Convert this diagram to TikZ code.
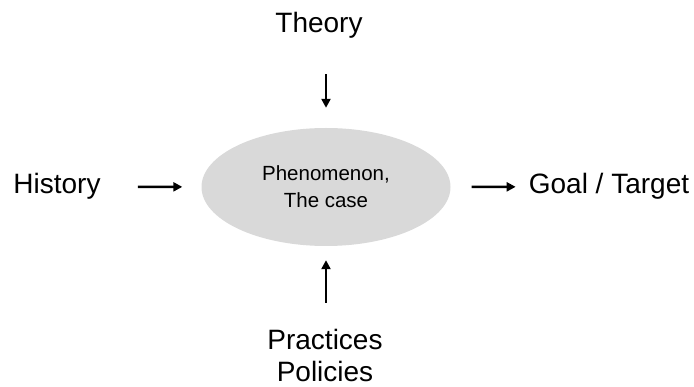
\documentclass[tikz,border=0pt]{standalone}
\usepackage{fontspec}
\setmainfont{Liberation Sans}
\usetikzlibrary{arrows.meta,shapes.geometric}
\definecolor{casegray}{RGB}{217,217,217}

\begin{document}
\begin{tikzpicture}[x=1pt,y=-1pt]
		\tikzstyle{every node}+=[inner sep=0pt]
		\tikzstyle{word}=[font=\fontsize{28}{32}\selectfont, align=center]
		\tikzstyle{pointer}=[-{Triangle[length=9pt,width=9pt]}, line width=2.4pt]
		\useasboundingbox (0,0) rectangle (694,387);
		\node [ellipse, fill=casegray, minimum width=249pt, minimum height=118pt, font=\fontsize{20.5}{27}\selectfont, align=center] (case) at (326,187) {Phenomenon,\\The case};
		\node [word, anchor=base] (theory) at (319,33) {Theory};
		\node [word, anchor=base] (history) at (57,194) {History};
		\node [word, anchor=base] (goal) at (609,194) {Goal / Target};
		\node [word, anchor=north] (practice) at (325,329) {Practices\\Policies};
		\draw [pointer, shorten <=35pt, shorten >=20pt] (theory.south -| case) -- (case.north);
		\draw [pointer, shorten <=37pt, shorten >=19pt] (history) -- (case);
		\draw [pointer, shorten <=21pt, shorten >=13pt] (case) -- (goal);
		\draw [pointer, shorten <=26pt, shorten >=14pt] (practice.north -| case) -- (case.south);
	\end{tikzpicture}
\end{document}
